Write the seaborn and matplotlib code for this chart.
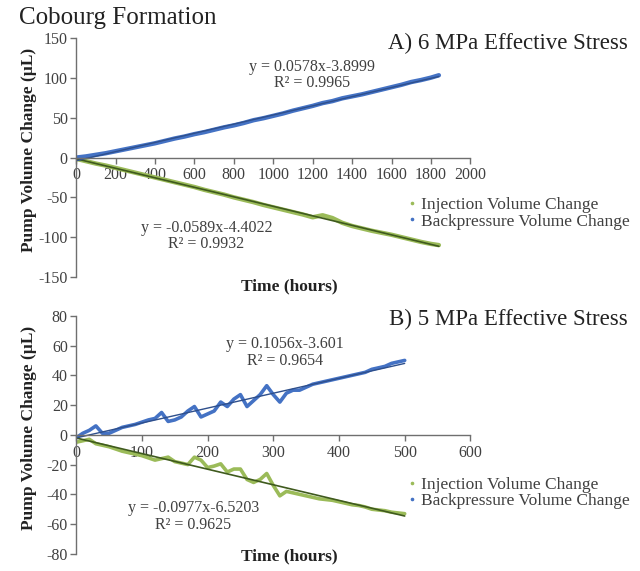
import numpy as np
import pandas as pd
import matplotlib
matplotlib.use('Agg')
import matplotlib.pyplot as plt
from matplotlib.lines import Line2D
import seaborn as sns

# panel A - 6 MPa, values every 50 h
hours_a = [0, 50, 100, 150, 200, 250, 300, 350, 400, 450, 500, 550, 600, 650, 700,
           750, 800, 850, 900, 950, 1000, 1050, 1100, 1150, 1200, 1250, 1300, 1350,
           1400, 1450, 1500, 1550, 1600, 1650, 1700, 1750, 1800, 1840]
backp_a = [0, 1.5, 3.5, 5.5, 8, 10.5, 13, 15.5, 18, 21, 24, 26.5, 29.5, 32, 35,
           38, 40.5, 43.5, 47, 49.5, 52.5, 55.5, 59, 62, 65, 68.5, 71, 74.5,
           77, 79.5, 82.5, 85.5, 88.5, 91.5, 95, 97.5, 100.5, 103.5]
inj_a = [-1.5, -4.5, -7.5, -10, -13, -16, -19, -22, -25, -28, -31, -34, -37, -40.5, -43.5,
         -46.5, -50, -53, -56, -59.5, -62.5, -65.5, -68.5, -71.5, -75, -72.5, -76, -82,
         -86, -89, -92, -94.5, -97, -100, -103, -106, -108.5, -110]

# panel B - 5 MPa, values every 10 h
hours_b = list(range(0, 510, 10))
backp_b = [-2, 1, 3, 6, 1, 1, 3, 5, 6, 7, 8.5, 10, 11, 15, 9, 10, 12, 16, 19, 12,
           14, 16, 22, 19, 24, 27, 19, 23, 27, 33, 27, 22, 28, 30, 30, 32, 34, 35,
           36, 37, 38, 39, 40, 41, 42, 44, 45, 46, 48, 49, 50]
inj_b = [-5, -4, -3, -6, -7, -8, -9.5, -11, -12, -13, -14, -15.5, -17, -16, -15, -18,
         -19, -20, -15, -17, -22, -21, -19.5, -25, -23, -23, -30, -32, -30, -26, -34,
         -41, -38, -39, -40, -41, -42, -43, -43.5, -44, -45, -46, -47, -47.5, -48.5,
         -50, -50.5, -51, -52, -52.5, -53]

eq_a = ['y = 0.0578x-3.8999\nR² = 0.9965', 'y = -0.0589x-4.4022\nR² = 0.9932']
eq_b = ['y = 0.1056x-3.601\nR² = 0.9654', 'y = -0.0977x-6.5203\nR² = 0.9625']

blue = '#4472C4'
green = '#9BBB59'
blue_dark = '#2E4F8C'
green_dark = '#3F5A1E'
grey = '#404040'

sns.set_theme(style='ticks')
plt.rcParams['font.family'] = ['Liberation Serif', 'DejaVu Serif']
plt.rcParams['axes.unicode_minus'] = False

fig = plt.figure(figsize=(6.4, 5.71), dpi=100)
ax1 = fig.add_axes([0.119, 0.515, 0.616, 0.418])
ax2 = fig.add_axes([0.119, 0.03, 0.616, 0.417])


def panel(ax, hours, backp, inj, eqs, xlim, ylim, xticks, yticks, title, eq_pos, lw, xlab_y):
    df = pd.DataFrame({'hours': hours, 'backp': backp, 'inj': inj})
    sns.lineplot(data=df, x='hours', y='inj', color=green, lw=lw, ax=ax)
    sns.lineplot(data=df, x='hours', y='backp', color=blue, lw=lw, ax=ax)
    sns.regplot(data=df, x='hours', y='inj', scatter=False, ci=None, truncate=True,
                line_kws={'color': green_dark, 'lw': 1.2}, ax=ax)
    sns.regplot(data=df, x='hours', y='backp', scatter=False, ci=None, truncate=True,
                line_kws={'color': blue_dark, 'lw': 1.0}, ax=ax)

    ax.set_xlim(xlim)
    ax.set_ylim(ylim)
    ax.set_xticks(xticks)
    ax.set_yticks(yticks)
    for s in ['top', 'right']:
        ax.spines[s].set_visible(False)
    ax.spines['bottom'].set_position(('data', 0))
    for s in ['left', 'bottom']:
        ax.spines[s].set_color('#6f6f6f')
        ax.spines[s].set_linewidth(1)
    ax.tick_params(axis='both', direction='out', length=4, width=1, color='#6f6f6f',
                   labelsize=11.5, labelcolor=grey, pad=2)
    ax.tick_params(axis='x', pad=3)

    ax.set_xlabel('Time (hours)', fontsize=12.5, fontweight='bold', color='#222222')
    ax.xaxis.set_label_coords(0.54, xlab_y)
    ax.set_ylabel('Pump Volume Change (µL)', fontsize=12.5, fontweight='bold', color='#222222')
    ax.yaxis.set_label_coords(-0.1, 0.53)

    ax.text(1.4, eq_pos[0], title, transform=ax.transAxes, ha='right', va='center',
            fontsize=16.5, color='#222222')
    ax.text(eq_pos[1], eq_pos[2], eqs[0], transform=ax.transAxes, ha='center', va='top',
            fontsize=11.5, color=grey, linespacing=1.05)
    ax.text(eq_pos[3], eq_pos[4], eqs[1], transform=ax.transAxes, ha='center', va='top',
            fontsize=11.5, color=grey, linespacing=1.05)

    handles = [Line2D([], [], ls='none', marker='o', ms=1.6, color=green),
               Line2D([], [], ls='none', marker='o', ms=1.6, color=blue)]
    ax.legend(handles, ['Injection Volume Change', 'Backpressure Volume Change'],
              loc='upper left', bbox_to_anchor=(eq_pos[5], eq_pos[6]), frameon=False,
              fontsize=12.5, handlelength=0.4, handletextpad=0.3, labelspacing=0.0,
              borderaxespad=0, labelcolor=grey)


panel(ax1, hours_a, backp_a, inj_a, eq_a, (0, 2000), (-150, 150),
      range(0, 2001, 200), range(-150, 151, 50), 'A) 6 MPa Effective Stress',
      (0.979, 0.599, 0.915, 0.33, 0.24, 0.825, 0.363), 3.2, -0.008)
panel(ax2, hours_b, backp_b, inj_b, eq_b, (0, 600), (-80, 80),
      range(0, 601, 100), range(-80, 81, 20), 'B) 5 MPa Effective Stress',
      (0.983, 0.53, 0.915, 0.297, 0.225, 0.825, 0.353), 2.6, 0.022)

fig.text(0.03, 0.968, 'Cobourg Formation', fontsize=18, color='#222222', va='center')

fig.savefig('out.png', dpi=100)
